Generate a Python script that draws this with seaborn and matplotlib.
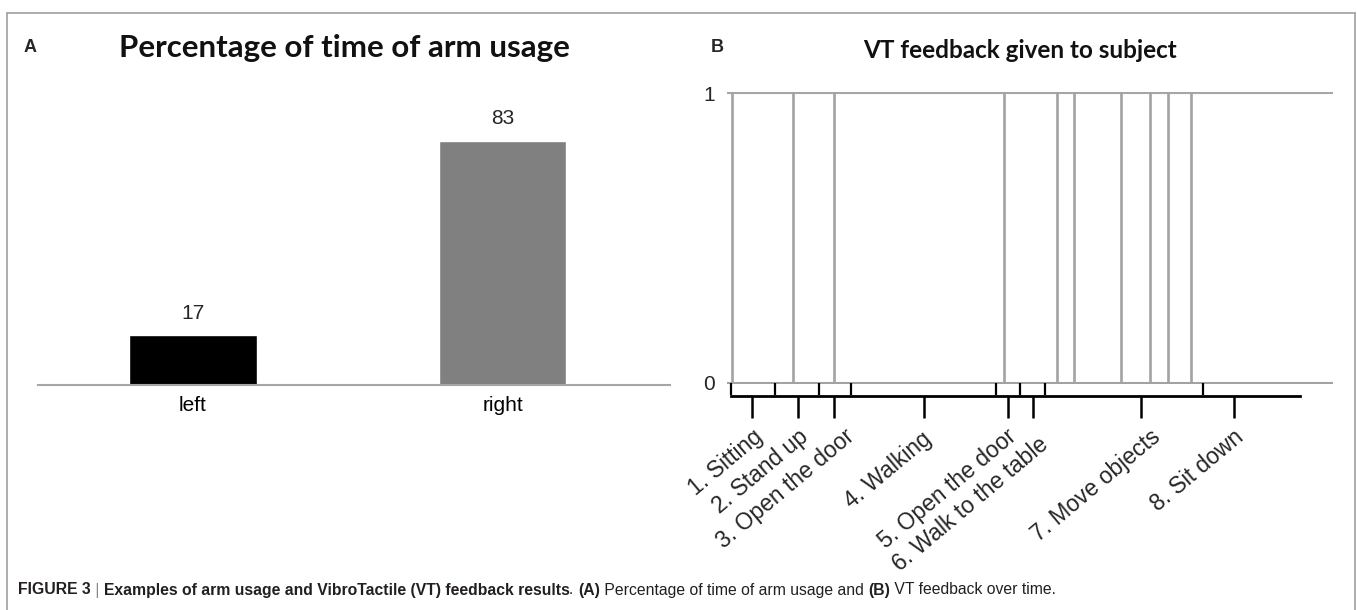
import numpy as np
import pandas as pd
import matplotlib
matplotlib.use("Agg")
import matplotlib.pyplot as plt
import seaborn as sns
from matplotlib.lines import Line2D
from matplotlib.transforms import ScaledTranslation

# ---------------- data ----------------
# Panel A
arms = ["left", "right"]
arm_pct = [17, 83]
arm_colors = ["#000000", "#808080"]

# Panel B (time axis in arbitrary units)
vt_onsets = [5, 66, 107, 277, 330, 347, 394, 423, 441, 464]
pulse_width = 1.3
time_end = 606
phase_labels = ["1. Sitting", "2. Stand up", "3. Open the door", "4. Walking",
                "5. Open the door", "6. Walk to the table", "7. Move objects",
                "8. Sit down"]
phase_ticks = [25, 71, 107, 197, 281, 306, 414, 507]
phase_bounds = [4, 48, 92, 124, 269, 293, 318, 476]
phase_end = 573

# small per-label nudges (pixels) to mimic original label placement
label_dx = [0, 0, 10, -3, -2, 5, 9, -1]
label_dy = [0, 0, 0, -2, 0, -8, 0, 0]

W, H = 1357, 610
sns.set_theme(style="white")
plt.rcParams["font.family"] = ["Liberation Sans", "DejaVu Sans"]

fig = plt.figure(figsize=(W / 100, H / 100), dpi=100)
fig.patch.set_facecolor("white")

# ---------------- Panel A ----------------
axA = fig.add_axes([38 / W, 1 - 385 / H, (670 - 38) / W, (385 - 91) / H])
df_a = pd.DataFrame({"arm": arms, "pct": arm_pct})
sns.barplot(data=df_a, x="arm", y="pct", hue="arm", palette=arm_colors,
            width=0.41, saturation=1, legend=False, ax=axA)
for c in axA.containers:
    axA.bar_label(c, fmt="%g", fontsize=15, padding=9)
axA.set_xlim(-0.5, 1.539)
axA.set_ylim(0, 100)
axA.set_xlabel("")
axA.set_ylabel("")
axA.set_yticks([])
for s in ["top", "right", "left"]:
    axA.spines[s].set_visible(False)
axA.spines["bottom"].set_color("#a6a6a6")
axA.spines["bottom"].set_linewidth(1.5)
axA.tick_params(axis="x", length=0, pad=8, labelsize=15, labelcolor="black")

# ---------------- Panel B ----------------
axB = fig.add_axes([727 / W, 1 - 384 / H, (1333 - 727) / W, (384 - 92) / H])
tt = [0]
vv = [0]
for o in vt_onsets:
    tt += [o, o, o + pulse_width, o + pulse_width]
    vv += [0, 1, 1, 0]
tt.append(time_end)
vv.append(0)
df_b = pd.DataFrame({"t": tt, "v": vv})
sns.lineplot(data=df_b, x="t", y="v", sort=False, estimator=None,
             color="#a3a3a3", linewidth=1.2, ax=axB)
axB.set_xlim(0, time_end)
axB.set_ylim(-0.004, 1.004)
axB.set_yticks([0, 1])
axB.set_yticklabels(["0", "1"])
axB.yaxis.grid(True, color="#a6a6a6", linewidth=1.5)
axB.set_xlabel("")
axB.set_ylabel("")
for s in ["top", "right", "left"]:
    axB.spines[s].set_visible(False)
sp = axB.spines["bottom"]
sp.set_position(("outward", 8.6))
sp.set_bounds(phase_bounds[0], phase_end)
sp.set_color("black")
sp.set_linewidth(2)
axB.set_xticks(phase_ticks)
axB.set_xticklabels(phase_labels, rotation=40, ha="right", rotation_mode="anchor")
axB.tick_params(axis="x", length=16, width=1.8, color="black", direction="out",
                labelsize=16.5, pad=5, bottom=True)
axB.tick_params(axis="y", length=0, pad=9, labelsize=15)
for lab, dx, dy in zip(axB.get_xticklabels(), label_dx, label_dy):
    lab.set_transform(lab.get_transform() + ScaledTranslation(dx / 100, dy / 100, fig.dpi_scale_trans))
ymin_div = -12 / 292
axB.vlines(phase_bounds, ymin_div, 0, color="black", linewidth=1.6, clip_on=False)

# ---------------- titles / letters ----------------
fig.text(344 / W, 1 - 48 / H, "Percentage of time of arm usage", ha="center", va="center",
         fontsize=22.5, fontweight="bold", family=["Lato", "DejaVu Sans"], color="#111111")
fig.text(1020 / W, 1 - 50 / H, "VT feedback given to subject", ha="center", va="center",
         fontsize=17.5, fontweight="bold", family=["Lato", "DejaVu Sans"], color="#111111")
fig.text(30 / W, 1 - 48 / H, "A", ha="center", va="center", fontsize=13, fontweight="bold")
fig.text(717 / W, 1 - 48 / H, "B", ha="center", va="center", fontsize=13, fontweight="bold")

# ---------------- frame ----------------
fc = "#a0a0a0"
fig.add_artist(Line2D([7 / W, 7 / W], [0, 1 - 13 / H], transform=fig.transFigure, color=fc, lw=1.2))
fig.add_artist(Line2D([7 / W, 1355 / W], [1 - 13 / H, 1 - 13 / H], transform=fig.transFigure, color=fc, lw=1.2))
fig.add_artist(Line2D([1355 / W, 1355 / W], [0, 1 - 13 / H], transform=fig.transFigure, color=fc, lw=1.2))

# ---------------- caption ----------------
cap_family = ["Liberation Sans Narrow", "Liberation Sans", "DejaVu Sans"]
pieces = [("FIGURE 3", True, "#231f20"), (" | ", False, "#888888"),
          ("Examples of arm usage and VibroTactile (VT) feedback results", True, "#231f20"),
          (". ", False, "#231f20"), ("(A)", True, "#231f20"),
          (" Percentage of time of arm usage and ", False, "#231f20"),
          ("(B)", True, "#231f20"), (" VT feedback over time.", False, "#231f20")]
fig.canvas.draw()
rend = fig.canvas.get_renderer()
xpix = 18
for txt, bold, col in pieces:
    t = fig.text(xpix / W, 1 - 590 / H, txt, ha="left", va="center", fontsize=11.3,
                 fontweight="bold" if bold else "normal", family=cap_family, color=col)
    bb = t.get_window_extent(rend)
    xpix = bb.x1

fig.savefig("out.png", dpi=100)
